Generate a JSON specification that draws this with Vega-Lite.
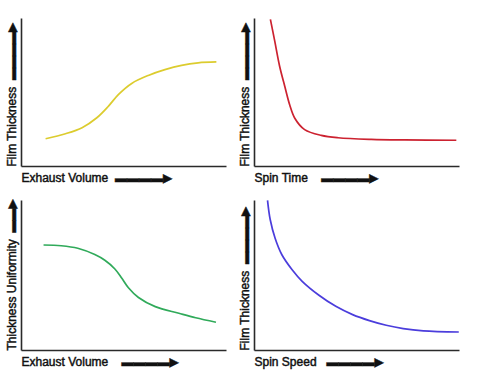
{
  "$schema": "https://vega.github.io/schema/vega-lite/v6.json",
  "background": "white",
  "padding": {"left": 5, "top": 15, "right": 5, "bottom": 5},
  "spacing": {"row": 13, "column": 12},
  "config": {
    "view": {"stroke": null},
    "style": {"guide-title": {"stroke": "#111111", "strokeWidth": 0.45}},
    "axis": {
      "grid": false, "ticks": false, "labels": false,
      "domainColor": "#2a2a2a", "domainWidth": 1.6,
      "titleFont": "Liberation Sans, DejaVu Sans", "titleFontSize": 12, "titleFontWeight": "normal", "titleColor": "#111111",
      "titleAnchor": "start"
    },
    "axisX": {"titlePadding": 6},
    "axisY": {"titlePadding": 3}
  },
  "data": {"values": [
    {"panel": "a", "x": 12.0, "y": 18.4}, {"panel": "a", "x": 21.7, "y": 21.8}, {"panel": "a", "x": 29.8, "y": 25.9}, {"panel": "a", "x": 37.0, "y": 32.6}, {"panel": "a", "x": 42.7, "y": 40.5}, {"panel": "a", "x": 47.6, "y": 48.4}, {"panel": "a", "x": 54.0, "y": 55.8}, {"panel": "a", "x": 62.1, "y": 61.2}, {"panel": "a", "x": 70.2, "y": 65.1}, {"panel": "a", "x": 78.3, "y": 68.0}, {"panel": "a", "x": 86.4, "y": 69.7}, {"panel": "a", "x": 95.3, "y": 70.3},
    {"panel": "b", "x": 8.0, "y": 99.1}, {"panel": "b", "x": 10.1, "y": 84.5}, {"panel": "b", "x": 12.5, "y": 67.4}, {"panel": "b", "x": 15.0, "y": 53.9}, {"panel": "b", "x": 17.4, "y": 41.4}, {"panel": "b", "x": 19.9, "y": 32.3}, {"panel": "b", "x": 24.7, "y": 24.6}, {"panel": "b", "x": 32.8, "y": 20.7}, {"panel": "b", "x": 41.0, "y": 19.1}, {"panel": "b", "x": 57.2, "y": 18.0}, {"panel": "b", "x": 73.5, "y": 17.6}, {"panel": "b", "x": 98.7, "y": 17.4},
    {"panel": "c", "x": 11.0, "y": 70.0}, {"panel": "c", "x": 19.6, "y": 69.5}, {"panel": "c", "x": 27.7, "y": 67.8}, {"panel": "c", "x": 36.0, "y": 63.6}, {"panel": "c", "x": 40.9, "y": 59.8}, {"panel": "c", "x": 45.8, "y": 54.0}, {"panel": "c", "x": 49.1, "y": 48.0}, {"panel": "c", "x": 52.4, "y": 41.5}, {"panel": "c", "x": 57.3, "y": 35.0}, {"panel": "c", "x": 65.5, "y": 28.9}, {"panel": "c", "x": 77.0, "y": 24.5}, {"panel": "c", "x": 85.2, "y": 21.5}, {"panel": "c", "x": 95.1, "y": 18.5},
    {"panel": "d", "x": 6.6, "y": 99.8}, {"panel": "d", "x": 7.9, "y": 87.0}, {"panel": "d", "x": 10.3, "y": 74.5}, {"panel": "d", "x": 13.6, "y": 63.5}, {"panel": "d", "x": 18.6, "y": 53.5}, {"panel": "d", "x": 23.5, "y": 45.8}, {"panel": "d", "x": 31.7, "y": 36.5}, {"panel": "d", "x": 39.9, "y": 29.1}, {"panel": "d", "x": 48.1, "y": 23.6}, {"panel": "d", "x": 56.3, "y": 19.6}, {"panel": "d", "x": 64.5, "y": 16.5}, {"panel": "d", "x": 72.8, "y": 14.3}, {"panel": "d", "x": 82.6, "y": 12.8}, {"panel": "d", "x": 99.9, "y": 12.0}
  ]},
  "columns": 2,
  "concat": [
    {
      "width": 205, "height": 148,
      "transform": [{"filter": "datum.panel === 'a'"}],
      "mark": {"type": "line", "interpolate": "catmull-rom", "color": "#dccc2e", "strokeWidth": 1.7},
      "encoding": {
        "x": {"field": "x", "type": "quantitative", "scale": {"domain": [0, 100]}, "axis": {"title": "Exhaust Volume\u00a0\u00a0▬▬▬▬▶"}},
        "y": {"field": "y", "type": "quantitative", "scale": {"domain": [0, 100]}, "axis": {"title": "Film Thickness\u00a0\u00a0▬▬▬▬▶"}}
      }
    },
    {
      "width": 205, "height": 148,
      "transform": [{"filter": "datum.panel === 'b'"}],
      "mark": {"type": "line", "interpolate": "catmull-rom", "color": "#cc2230", "strokeWidth": 1.7},
      "encoding": {
        "x": {"field": "x", "type": "quantitative", "scale": {"domain": [0, 100]}, "axis": {"title": "Spin Time\u00a0\u00a0\u00a0\u00a0▬▬▬▬▶"}},
        "y": {"field": "y", "type": "quantitative", "scale": {"domain": [0, 100]}, "axis": {"title": "Film Thickness\u00a0\u00a0▬▬▬▬▶"}}
      }
    },
    {
      "width": 205, "height": 150,
      "transform": [{"filter": "datum.panel === 'c'"}],
      "mark": {"type": "line", "interpolate": "catmull-rom", "color": "#30aa5a", "strokeWidth": 1.7},
      "encoding": {
        "x": {"field": "x", "type": "quantitative", "scale": {"domain": [0, 100]}, "axis": {"title": "Exhaust Volume\u00a0\u00a0\u00a0\u00a0▬▬▬▬▶"}},
        "y": {"field": "y", "type": "quantitative", "scale": {"domain": [0, 100]}, "axis": {"title": "Thickness Uniformity\u00a0\u00a0▬▬▶"}}
      }
    },
    {
      "width": 205, "height": 150,
      "transform": [{"filter": "datum.panel === 'd'"}],
      "mark": {"type": "line", "interpolate": "catmull-rom", "color": "#4b3ddc", "strokeWidth": 1.7},
      "encoding": {
        "x": {"field": "x", "type": "quantitative", "scale": {"domain": [0, 100]}, "axis": {"title": "Spin Speed\u00a0\u00a0\u00a0▬▬▬▬▶"}},
        "y": {"field": "y", "type": "quantitative", "scale": {"domain": [0, 100]}, "axis": {"title": "Film Thickness\u00a0\u00a0▬▬▬▬▶"}}
      }
    }
  ]
}
